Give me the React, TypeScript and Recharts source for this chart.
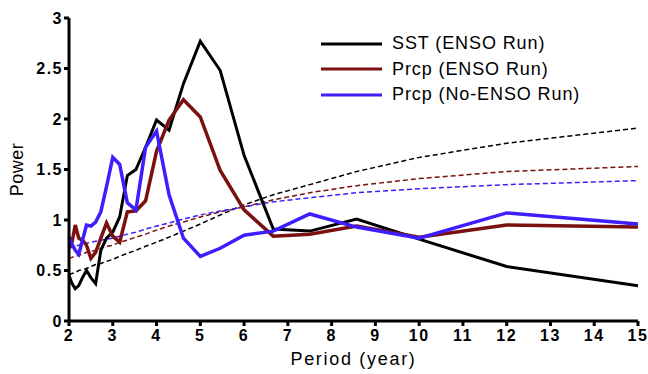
import * as React from 'react';
import { LineChart, Line, XAxis, YAxis, Legend } from 'recharts';

// Fourier periods (year), ascending
const periods = [2, 2.069, 2.143, 2.222, 2.308, 2.4, 2.5, 2.609, 2.727, 2.857, 3, 3.158, 3.333, 3.529, 3.75, 4, 4.286, 4.615, 5, 5.455, 6, 6.667, 7.5, 8.571, 10, 12, 15];

const sstEnso = [0.45, 0.37, 0.32, 0.35, 0.43, 0.5, 0.43, 0.37, 0.7, 0.82, 0.88, 1.03, 1.44, 1.5, 1.72, 1.99, 1.89, 2.35, 2.77, 2.48, 1.64, 0.91, 0.89, 1.01, 0.81, 0.54, 0.35];
const prcpEnso = [0.72, 0.78, 0.95, 0.82, 0.8, 0.75, 0.62, 0.68, 0.82, 0.97, 0.84, 0.78, 1.08, 1.09, 1.19, 1.68, 1.99, 2.19, 2.02, 1.49, 1.1, 0.84, 0.86, 0.94, 0.83, 0.95, 0.93];
const prcpNoEnso = [0.83, 0.76, 0.7, 0.66, 0.8, 0.95, 0.94, 0.98, 1.08, 1.33, 1.62, 1.55, 1.17, 1.1, 1.72, 1.88, 1.25, 0.82, 0.64, 0.72, 0.85, 0.89, 1.06, 0.93, 0.82, 1.07, 0.96];

// red-noise reference spectra (dashed)
const sstRed = [0.46, 0.47, 0.48, 0.5, 0.51, 0.52, 0.54, 0.56, 0.57, 0.59, 0.61, 0.64, 0.67, 0.7, 0.74, 0.78, 0.83, 0.89, 0.96, 1.05, 1.15, 1.25, 1.35, 1.48, 1.62, 1.76, 1.91];
const prcpEnsoRed = [0.62, 0.63, 0.64, 0.65, 0.66, 0.68, 0.69, 0.7, 0.72, 0.74, 0.75, 0.78, 0.8, 0.83, 0.86, 0.9, 0.94, 0.98, 1.03, 1.08, 1.13, 1.2, 1.27, 1.34, 1.41, 1.48, 1.53];
const prcpNoEnsoRed = [0.72, 0.73, 0.74, 0.75, 0.76, 0.77, 0.78, 0.79, 0.8, 0.81, 0.82, 0.84, 0.86, 0.88, 0.91, 0.94, 0.97, 1.01, 1.05, 1.09, 1.13, 1.18, 1.22, 1.27, 1.31, 1.35, 1.39];

const xTicks = [2, 3, 4, 5, 6, 7, 8, 9, 10, 11, 12, 13, 14, 15];
const yTicks = [0, 0.5, 1, 1.5, 2, 2.5, 3];
const legendOrder = ['SST (ENSO Run)', 'Prcp (ENSO Run)', 'Prcp (No-ENSO Run)'];

const BLACK = '#000000';
const RED = '#7a1010';
const BLUE = '#3c1eff';

const data = periods.map((p, i) => ({
    period: p,
    sst: sstEnso[i],
    prcp: prcpEnso[i],
    prcpNo: prcpNoEnso[i],
    sstR: sstRed[i],
    prcpR: prcpEnsoRed[i],
    prcpNoR: prcpNoEnsoRed[i],
}));

const tickStyle = { fill: '#000', fontSize: 16, fontWeight: 700, letterSpacing: 1.5, fontFamily: '"Liberation Sans Narrow", "Liberation Sans", Arial, sans-serif' };
const axisLine = { stroke: '#000', strokeWidth: 3 };

const LegendBox = (props: any) => {
    const items = (props.payload || []).filter((p: any) => legendOrder.includes(p.value));
    items.sort((a: any, b: any) => legendOrder.indexOf(a.value) - legendOrder.indexOf(b.value));
    return (
        <div>
            {items.map((p: any) => (
                <div key={p.value} style={{ display: 'flex', alignItems: 'center', height: 25.5 }}>
                    <svg width={61} height={6}>
                        <line x1={0} y1={3} x2={61} y2={3} stroke={p.color} strokeWidth={3} />
                    </svg>
                    <span style={{ marginLeft: 10, fontSize: 18, letterSpacing: 0.9, color: '#000', whiteSpace: 'nowrap' }}>{p.value}</span>
                </div>
            ))}
        </div>
    );
};

export default function App() {
    return (
        <div style={{ position: 'absolute', left: 0, top: 0, width: 648, height: 374, background: '#fff', fontFamily: '"Liberation Sans", Arial, sans-serif' }}>
            <LineChart width={648} height={374} data={data} margin={{ top: 18, right: 10, bottom: 0, left: 0 }}>
                <XAxis dataKey="period" type="number" domain={[2, 15]} ticks={xTicks} interval={0}
                    axisLine={axisLine} tickLine={axisLine} tickSize={5} tickMargin={4} height={53} tick={tickStyle}
                    label={{ value: 'Period (year)', position: 'insideBottom', offset: 9, style: { fontSize: 18, fill: '#000', letterSpacing: 1.7 } }} />
                <XAxis xAxisId="top" dataKey="period" type="number" domain={[2, 15]} orientation="top" height={0}
                    tick={false} tickLine={false} axisLine={axisLine} />
                <YAxis type="number" domain={[0, 3]} ticks={yTicks} interval={0} width={69}
                    axisLine={axisLine} tickLine={axisLine} tickSize={5} tickMargin={1} tick={tickStyle}
                    label={{ value: 'Power', angle: -90, position: 'insideLeft', offset: 17, style: { textAnchor: 'middle', fontSize: 18, fill: '#000', letterSpacing: 0.5 } }} />
                <YAxis yAxisId="right" type="number" domain={[0, 3]} orientation="right" width={0}
                    tick={false} tickLine={false} axisLine={axisLine} />
                <Legend content={LegendBox} layout="vertical" verticalAlign="middle" align="center"
                    wrapperStyle={{ left: 321, top: 31, width: 300 }} />
                <Line dataKey="sstR" stroke={BLACK} strokeWidth={1.5} strokeDasharray="5 3" dot={false} legendType="none" isAnimationActive={false} />
                <Line dataKey="prcpR" stroke={RED} strokeWidth={1.5} strokeDasharray="5 3" dot={false} legendType="none" isAnimationActive={false} />
                <Line dataKey="prcpNoR" stroke={BLUE} strokeWidth={1.5} strokeDasharray="5 3" dot={false} legendType="none" isAnimationActive={false} />
                <Line dataKey="sst" name="SST (ENSO Run)" stroke={BLACK} strokeWidth={3} dot={false} isAnimationActive={false} />
                <Line dataKey="prcp" name="Prcp (ENSO Run)" stroke={RED} strokeWidth={3.5} dot={false} isAnimationActive={false} />
                <Line dataKey="prcpNo" name="Prcp (No-ENSO Run)" stroke={BLUE} strokeWidth={3.5} dot={false} isAnimationActive={false} />
            </LineChart>
        </div>
    );
}
